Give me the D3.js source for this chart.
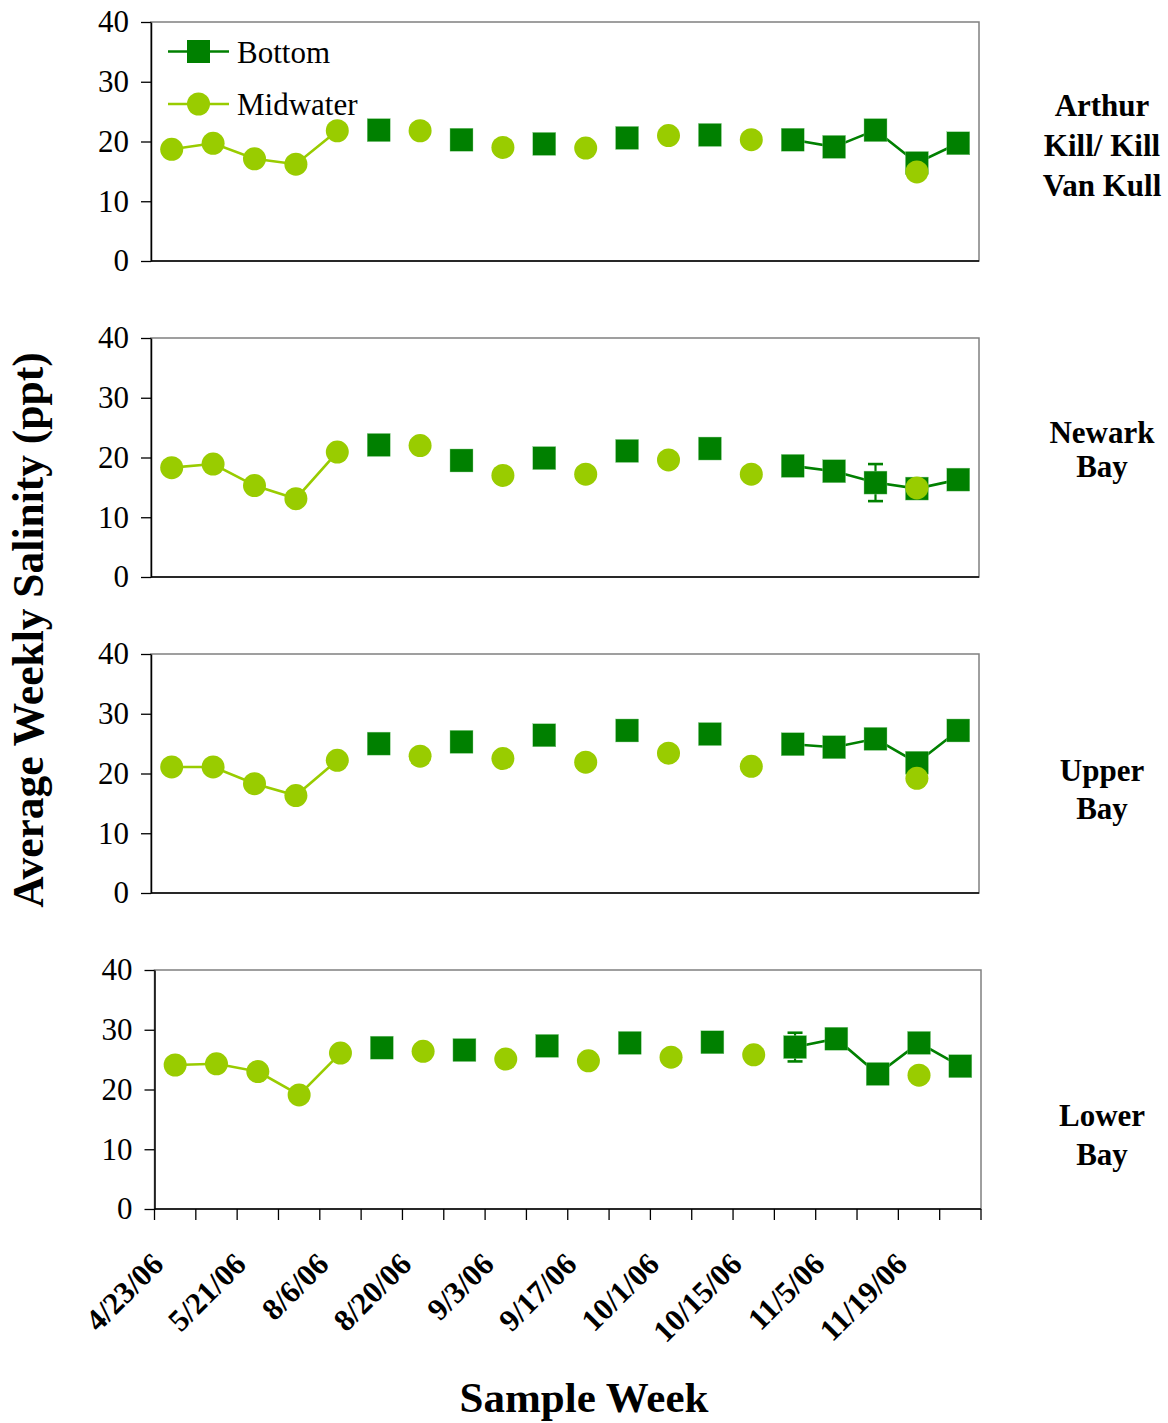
<!DOCTYPE html>
<html>
<head>
<meta charset="utf-8">
<script src="https://cdn.jsdelivr.net/npm/d3@7"></script>
<style>
  html, body { margin: 0; padding: 0; background: #fff; }
  svg { display: block; }
  text { font-family: "Liberation Serif", "Times New Roman", serif; fill: #000; }
</style>
</head>
<body>
<svg id="chart" width="1168" height="1423"></svg>
<script>
// ---------- DATA ----------
const categories = ["4/23/06","5/7/06","5/21/06","7/23/06","8/6/06","8/13/06","8/20/06","8/27/06","9/3/06","9/10/06",
                    "9/17/06","9/24/06","10/1/06","10/8/06","10/15/06","10/29/06","11/5/06","11/12/06","11/19/06","11/26/06"];
const yTicks = [0, 10, 20, 30, 40];
const seriesNames = ["Bottom", "Midwater"];

const arthurBottom = [null,null,null,null,null,21.9,null,20.3,null,19.6,null,20.6,null,21.1,null,20.3,19.1,21.9,16.4,19.7];
const arthurMid    = [18.7,19.7,17.1,16.2,21.8,null,21.8,null,19.0,null,18.9,null,21.0,null,20.3,null,null,null,14.9,null];
const arthurBottomErr = [null,null,null,null,null,null,null,null,null,null,null,null,null,null,null,null,null,null,null,null];

const newarkBottom = [null,null,null,null,null,22.1,null,19.5,null,19.9,null,21.1,null,21.5,null,18.6,17.7,15.8,14.8,16.3];
const newarkMid    = [18.3,18.9,15.3,13.1,20.9,null,22.0,null,17.0,null,17.2,null,19.6,null,17.2,null,null,null,14.9,null];
const newarkBottomErr = [null,null,null,null,null,null,null,null,null,null,null,null,null,null,null,null,null,3.1,null,null];

const upperBottom = [null,null,null,null,null,25.0,null,25.3,null,26.4,null,27.2,null,26.6,null,24.9,24.4,25.8,21.8,27.2];
const upperMid    = [21.1,21.1,18.3,16.3,22.2,null,22.9,null,22.5,null,21.9,null,23.4,null,21.2,null,null,null,19.2,null];
const upperBottomErr = [null,null,null,null,null,null,null,null,null,null,null,null,null,null,null,null,null,null,null,null];

const lowerBottom = [null,null,null,null,null,27.0,null,26.6,null,27.3,null,27.8,null,27.9,null,27.1,28.5,22.6,27.8,23.9];
const lowerMid    = [24.1,24.3,23.0,19.1,26.1,null,26.4,null,25.1,null,24.8,null,25.4,null,25.8,null,null,null,22.4,null];
const lowerBottomErr = [null,null,null,null,null,null,null,null,null,null,null,null,null,null,null,2.4,null,null,null,null];

const arthurLabel = ["Arthur", "Kill/ Kill", "Van Kull"];
const newarkLabel = ["Newark", "Bay"];
const upperLabel  = ["Upper", "Bay"];
const lowerLabel  = ["Lower", "Bay"];

// ---------- LAYOUT ----------
const FONT = '"Liberation Serif", "Times New Roman", serif';
const panels = [
  { bottom: arthurBottom, mid: arthurMid, err: arthurBottomErr, label: arthurLabel,
    x0: 151, x1: 979, y0: 22, y1: 261, labelY: [116, 156, 196], legend: true },
  { bottom: newarkBottom, mid: newarkMid, err: newarkBottomErr, label: newarkLabel,
    x0: 151, x1: 979, y0: 338, y1: 577, labelY: [443, 477] },
  { bottom: upperBottom, mid: upperMid, err: upperBottomErr, label: upperLabel,
    x0: 151, x1: 979, y0: 654, y1: 893, labelY: [781, 819] },
  { bottom: lowerBottom, mid: lowerMid, err: lowerBottomErr, label: lowerLabel,
    x0: 154.5, x1: 981, y0: 970, y1: 1209, labelY: [1126, 1165], xAxis: true }
];

const colBottom = "#008000";
const colMid = "#99CC00";
const sq = 23;      // square side
const rad = 11.5;   // circle radius

const svg = d3.select("#chart");

panels.forEach(p => {
  const g = svg.append("g");
  const x = d3.scaleBand().domain(categories).range([p.x0, p.x1]).padding(0);
  const cx = c => x(c) + x.bandwidth() / 2;
  const y = d3.scaleLinear().domain([0, 40]).range([p.y1, p.y0]);

  // plot border (top/right gray)
  g.append("rect")
    .attr("x", p.x0).attr("y", p.y0)
    .attr("width", p.x1 - p.x0).attr("height", p.y1 - p.y0)
    .attr("fill", "none").attr("stroke", "#808080").attr("stroke-width", 1.5);

  // y axis
  const ya = g.append("g")
    .attr("transform", `translate(${p.x0},0)`)
    .call(d3.axisLeft(y).tickValues(yTicks).tickSize(10).tickPadding(12).tickSizeOuter(0));
  ya.attr("font-family", FONT).attr("font-size", 31);
  ya.select(".domain").attr("stroke", "#000").attr("stroke-width", 1.5);
  ya.selectAll(".tick line").attr("stroke", "#000").attr("stroke-width", 1.3);
  ya.selectAll(".tick text")
    .style("font-family", FONT)
    .style("font-size", "31px").attr("fill", "#000");

  // bottom axis line
  g.append("line")
    .attr("x1", p.x0).attr("x2", p.x1).attr("y1", p.y1).attr("y2", p.y1)
    .attr("stroke", "#000").attr("stroke-width", 1.5);

  if (p.xAxis) {
    const bounds = categories.map(c => x(c)).concat([p.x1]);
    g.selectAll(".xtick").data(bounds).join("line")
      .attr("x1", d => d).attr("x2", d => d)
      .attr("y1", p.y1).attr("y2", p.y1 + 11)
      .attr("stroke", "#000").attr("stroke-width", 1.3);
    g.selectAll(".xlab").data(categories.filter((c, i) => i % 2 === 0)).join("text")
      .attr("transform", c => `translate(${cx(c) - 10},${p.y1 + 57}) rotate(-45)`)
      .attr("text-anchor", "end")
      .style("font-family", FONT)
      .style("font-size", "31px").style("font-weight", "bold")
      .text(c => c);
  }

  const line = d3.line()
    .defined(d => d.v !== null)
    .x(d => cx(d.c)).y(d => y(d.v));

  const bData = categories.map((c, i) => ({ c, v: p.bottom[i], e: p.err[i] }));
  const mData = categories.map((c, i) => ({ c, v: p.mid[i] }));

  // Bottom series
  g.append("path").datum(bData).attr("d", line)
    .attr("fill", "none").attr("stroke", colBottom).attr("stroke-width", 2.6);
  const eb = bData.filter(d => d.v !== null && d.e !== null && d.e !== undefined);
  eb.forEach(d => {
    const xc = cx(d.c);
    g.append("line").attr("x1", xc).attr("x2", xc)
      .attr("y1", y(d.v + d.e)).attr("y2", y(d.v - d.e))
      .attr("stroke", colBottom).attr("stroke-width", 2.2);
    [d.v + d.e, d.v - d.e].forEach(v => {
      g.append("line").attr("x1", xc - 7.5).attr("x2", xc + 7.5)
        .attr("y1", y(v)).attr("y2", y(v))
        .attr("stroke", colBottom).attr("stroke-width", 2.6);
    });
  });
  g.selectAll(".sq").data(bData.filter(d => d.v !== null)).join("rect")
    .attr("x", d => cx(d.c) - sq / 2).attr("y", d => y(d.v) - sq / 2)
    .attr("width", sq).attr("height", sq)
    .attr("fill", colBottom).attr("stroke", "#8fcf8f").attr("stroke-width", 0.4);

  // Midwater series
  g.append("path").datum(mData).attr("d", line)
    .attr("fill", "none").attr("stroke", colMid).attr("stroke-width", 2.6);
  g.selectAll(".ci").data(mData.filter(d => d.v !== null)).join("circle")
    .attr("cx", d => cx(d.c)).attr("cy", d => y(d.v)).attr("r", rad)
    .attr("fill", colMid);

  // Panel label
  p.label.forEach((t, i) => {
    g.append("text").attr("x", 1102).attr("y", p.labelY[i])
      .attr("text-anchor", "middle")
      .style("font-size", "31px").style("font-weight", "bold")
      .text(t);
  });

  // Legend
  if (p.legend) {
    const lg = g.append("g");
    const rows = [{ name: seriesNames[0], col: colBottom, shape: "sq", yy: 51.5 },
                  { name: seriesNames[1], col: colMid, shape: "ci", yy: 104 }];
    rows.forEach(r => {
      lg.append("line").attr("x1", 168).attr("x2", 229).attr("y1", r.yy).attr("y2", r.yy)
        .attr("stroke", r.col).attr("stroke-width", 2.6);
      if (r.shape === "sq") {
        lg.append("rect").attr("x", 198.5 - sq / 2).attr("y", r.yy - sq / 2)
          .attr("width", sq).attr("height", sq).attr("fill", r.col);
      } else {
        lg.append("circle").attr("cx", 198.5).attr("cy", r.yy).attr("r", rad).attr("fill", r.col);
      }
      lg.append("text").attr("x", 237).attr("y", r.yy + 11)
        .style("font-size", "31px").text(r.name);
    });
  }
});

// Axis titles
svg.append("text")
  .attr("transform", "translate(43,630) rotate(-90)")
  .attr("text-anchor", "middle")
  .style("font-size", "43.5px").style("font-weight", "bold")
  .text("Average Weekly Salinity (ppt)");

svg.append("text")
  .attr("x", 584).attr("y", 1412)
  .attr("text-anchor", "middle")
  .style("font-size", "43px").style("font-weight", "bold")
  .text("Sample Week");
</script>
</body>
</html>
